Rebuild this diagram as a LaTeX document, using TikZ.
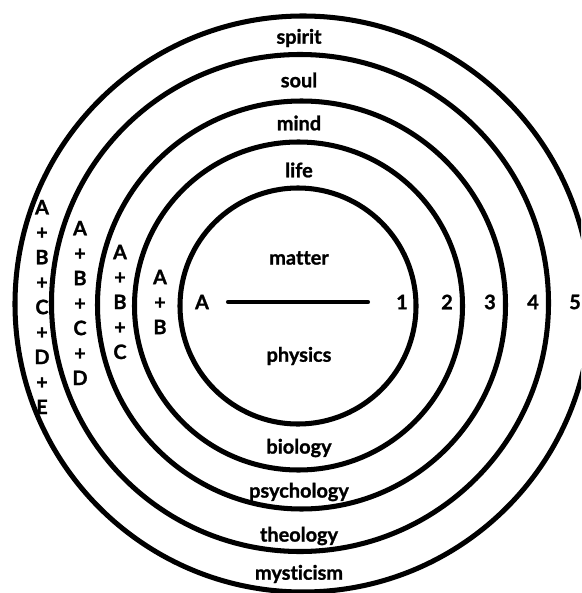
\documentclass[tikz,border=0pt]{standalone}
\usepackage{fontspec}
\setmainfont{Lato}[Ligatures=NoCommon,BoldFeatures={FakeBold=1.2}]
\usepackage{tikz}

\tikzset{
	ring/.style={line width=4.3pt,black},
	rotulo/.style={font=\fontsize{17}{21.3}\selectfont\bfseries,inner sep=0pt,align=center}
}

\begin{document}
\begin{tikzpicture}[x=0.03cm,y=-0.03cm]
		
		% Ventana
		\useasboundingbox (0,0) rectangle (581,593);
		\clip (0,0) rectangle (581,593);
		
		% Circulos
		\foreach \cx/\cy/\r in {298/306/118, 298.5/306/164, 301.5/305/204, 300/303/248.5, 303/304/288}{
			\draw[ring] (\cx,\cy) circle (\r);
		}
		
		% Segmento central
		\coordinate (izq) at (228,302);
		\coordinate (der) at (368,302);
		\draw[line width=3.5pt,line cap=round] (izq) -- (der);
		
		% Niveles (arriba) y disciplinas (abajo)
		\foreach \nombre/\texto/\y in {spirit/spirit/38, soul/soul/80, mind/mind/123, life/life/170, matter/matter/258,
			physics/physics/356, biology/biology/448, psych/psychology/492, theo/theology/536, myst/mysticism/574}{
			\node[rotulo] (\nombre) at (299,\y) {\texto};
		}
		
		% Numeros
		\node[rotulo] (nA) at (202,302) {A};
		\foreach \n/\x in {1/402,2/447,3/490,4/533,5/575}{
			\node[rotulo] (n\n) at (\x,302) {\n};
		}
		
		% Sumas
		\node[rotulo] (sB) at (160,302) {A\\+\\B};
		\node[rotulo] (sC) at (120,302) {A\\+\\B\\+\\C};
		\node[rotulo] (sD) at (80,303) {A\\+\\B\\+\\C\\+\\D};
		\node[rotulo] (sE) at (42,307) {A\\+\\B\\+\\C\\+\\D\\+\\E};
		
	\end{tikzpicture}
\end{document}
